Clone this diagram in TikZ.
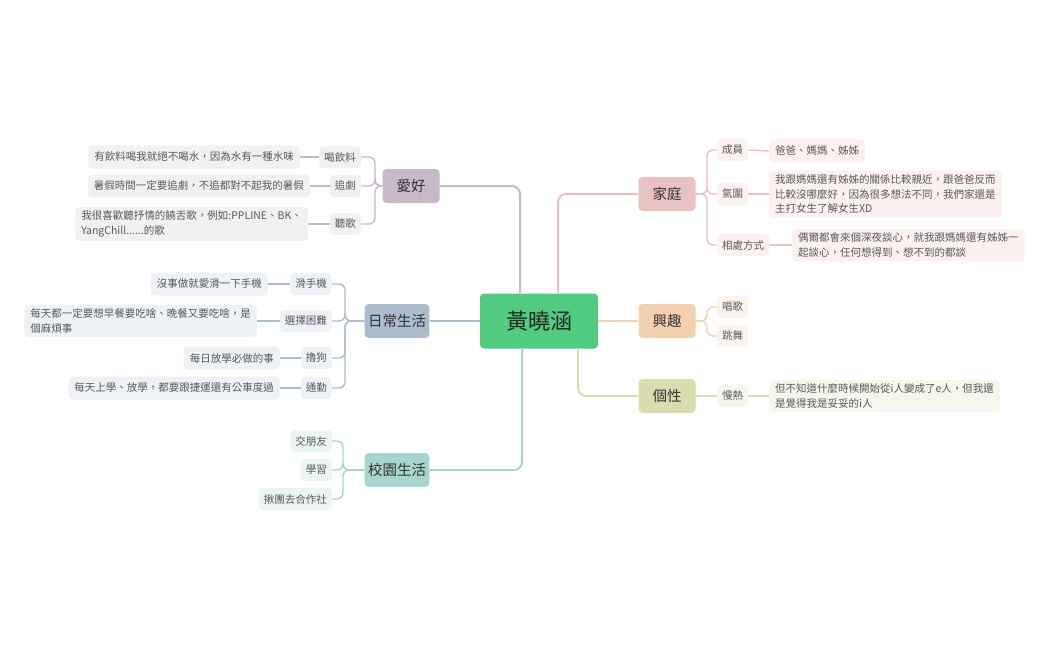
\documentclass[tikz,border=0pt]{standalone}
\usepackage{fontspec}
\setmainfont{Noto Sans CJK TC}
\begin{document}
\begin{tikzpicture}[x=1pt,y=-1pt,
  rootbox/.style={fill=rootc,rounded corners=4,minimum width=118,minimum height=55,font=\fontsize{22}{26}\selectfont,text=black!85},
  catbox/.style={fill=#1,rounded corners=4,minimum width=57,minimum height=34,font=\fontsize{14.5}{18}\selectfont,text=black!80},
  subbox/.style={fill=#1,rounded corners=4,inner xsep=5,minimum height=22,font=\fontsize{10.5}{13}\selectfont,text=black!65},
  leafbox/.style={fill=#1,rounded corners=4,inner xsep=6,inner ysep=4,minimum height=23,align=left,font=\fontsize{10.5}{14.5}\selectfont,text=black!65},
  conn/.style={draw=#1,line width=1.4,rounded corners=6},
  rconn/.style={draw=#1,line width=2,rounded corners=8}]
\definecolor{rootc}{HTML}{50CB80}
\definecolor{ca}{HTML}{C8B9C9}\definecolor{la}{HTML}{F3F0F3}
\definecolor{cb}{HTML}{ABBCCC}\definecolor{lb}{HTML}{EEF1F5}
\definecolor{cc}{HTML}{A8D5CB}\definecolor{lc}{HTML}{EBF5F3}
\definecolor{cd}{HTML}{E8C1C1}\definecolor{ld}{HTML}{FBF1F0}
\definecolor{ce}{HTML}{F3D1AF}\definecolor{le}{HTML}{FCF4EC}
\definecolor{cf}{HTML}{D8DCAF}\definecolor{lf}{HTML}{F5F6EC}
\useasboundingbox (0,0) rectangle (1049,650);
% root & categories
\node[rootbox] (root) at (539,321) {黃曉涵};
\node[catbox=ca] (A) at (411,186) {愛好};
\node[catbox=cb] (B) at (397,321) {日常生活};
\node[catbox=cc] (C) at (397,470) {校園生活};
\node[catbox=cd] (D) at (667,194) {家庭};
\node[catbox=ce] (E) at (667,321) {興趣};
\node[catbox=cf] (F) at (667,396) {個性};
\coordinate (xA) at (520,0);\coordinate (xC) at (522,0);
\coordinate (xD) at (558,0);\coordinate (xF) at (578,0);
\draw[rconn=ca] (root.north -| xA) |- (A.east);
\draw[rconn=cb] (root.west) -- (B.east);
\draw[rconn=cc] (root.south -| xC) |- (C.east);
\draw[rconn=cd] (root.north -| xD) |- (D.west);
\draw[rconn=ce] (root.east) -- (E.west);
\draw[rconn=cf] (root.south -| xF) |- (F.west);
% 愛好
\node[subbox=la,anchor=east] (A1) at (361,157) {喝飲料};
\node[subbox=la,anchor=east] (A2) at (361,186) {追劇};
\node[subbox=la,anchor=east] (A3) at (361,224) {聽歌};
\node[leafbox=la,anchor=east] (A1l) at (300,157) {有飲料喝我就絕不喝水，因為水有一種水味};
\node[leafbox=la,anchor=east] (A2l) at (310,186) {暑假時間一定要追劇，不追都對不起我的暑假};
\node[leafbox=la,anchor=east] (A3l) at (308,224) {我很喜歡聽抒情的饒舌歌，例如:PPLINE、BK、\\YangChill......的歌};
\coordinate (bA) at (375,0);
\foreach \c in {A1,A2,A3}{\draw[conn=ca] (A.west) -- (A.west -| bA) |- (\c.east);}
\foreach \c in {A1,A2,A3}{\draw[conn=ca] (\c.west) -- (\c l.east);}
% 日常生活
\node[subbox=lb,anchor=east] (B1) at (332,284) {滑手機};
\node[subbox=lb,anchor=east] (B2) at (332,321) {選擇困難};
\node[subbox=lb,anchor=east] (B3) at (332,358) {擼狗};
\node[subbox=lb,anchor=east] (B4) at (332,388) {通勤};
\node[leafbox=lb,anchor=east] (B1l) at (268,284) {沒事做就愛滑一下手機};
\node[leafbox=lb,anchor=east] (B2l) at (257,321) {每天都一定要想早餐要吃啥、晚餐又要吃啥，是\\個麻煩事};
\node[leafbox=lb,anchor=east] (B3l) at (280,358) {每日放學必做的事};
\node[leafbox=lb,anchor=east] (B4l) at (280,388) {每天上學、放學，都要跟捷運還有公車度過};
\coordinate (bB) at (345,0);
\foreach \c in {B1,B2,B3,B4}{\draw[conn=cb] (B.west) -- (B.west -| bB) |- (\c.east);}
\foreach \c in {B1,B2,B3,B4}{\draw[conn=cb] (\c.west) -- (\c l.east);}
% 校園生活
\node[subbox=lc,anchor=east] (C1) at (332,441) {交朋友};
\node[subbox=lc,anchor=east] (C2) at (332,470) {學習};
\node[subbox=lc,anchor=east] (C3) at (332,499) {揪團去合作社};
\coordinate (bC) at (343,0);
\foreach \c in {C1,C2,C3}{\draw[conn=cc] (C.west) -- (C.west -| bC) |- (\c.east);}
% 家庭
\node[subbox=ld,anchor=west] (D1) at (717,150) {成員};
\node[subbox=ld,anchor=west] (D2) at (717,194) {氣圍};
\node[subbox=ld,anchor=west] (D3) at (717,245) {相處方式};
\node[leafbox=ld,anchor=west] (D1l) at (769,151) {爸爸、媽媽、姊姊};
\node[leafbox=ld,anchor=west] (D2l) at (769,194) {我跟媽媽還有姊姊的關係比較親近，跟爸爸反而\\比較沒哪麼好，因為很多想法不同，我們家還是\\主打女生了解女生XD};
\node[leafbox=ld,anchor=west] (D3l) at (792,245) {偶爾都會來個深夜談心，就我跟媽媽還有姊姊一\\起談心，任何想得到、想不到的都談};
\coordinate (bD) at (707,0);
\foreach \c in {D1,D2,D3}{\draw[conn=cd] (D.east) -- (D.east -| bD) |- (\c.west);}
\foreach \c in {D1,D2,D3}{\draw[conn=cd] (\c.east) -- (\c l.west);}
% 興趣
\node[subbox=le,anchor=west] (E1) at (717,307) {唱歌};
\node[subbox=le,anchor=west] (E2) at (717,336) {跳舞};
\foreach \c in {E1,E2}{\draw[conn=ce] (E.east) -- (E.east -| bD) |- (\c.west);}
% 個性
\node[subbox=lf,anchor=west] (F1) at (717,396) {慢熱};
\node[leafbox=lf,anchor=west] (F1l) at (769,396) {但不知道什麼時候開始從i人變成了e人，但我還\\是覺得我是妥妥的i人};
\draw[conn=cf] (F.east) -- (F1.west);
\draw[conn=cf] (F1.east) -- (F1l.west);
\end{tikzpicture}
\end{document}
